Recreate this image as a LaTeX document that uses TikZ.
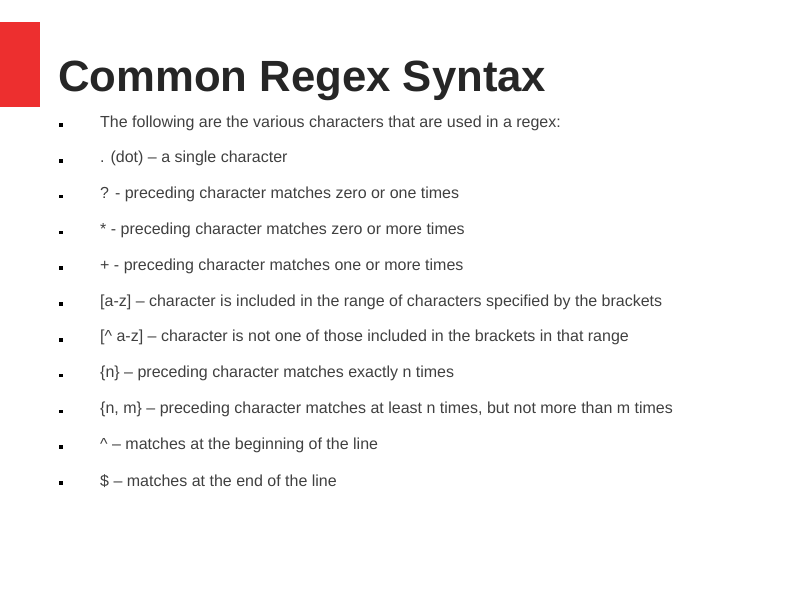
\documentclass[tikz,border=0pt]{standalone}
\usepackage{fontspec}
\setmainfont{Liberation Sans}
\definecolor{slidered}{RGB}{237,47,47}
\definecolor{txt}{RGB}{64,64,64}
\begin{document}
\begin{tikzpicture}[x=1bp,y=-1bp,
  item/.style={anchor=west,inner sep=0pt,text=txt,font=\fontsize{16bp}{19bp}\selectfont},
  bul/.style={fill=black,minimum size=3.5bp,inner sep=0pt}]
\useasboundingbox (0,0) rectangle (794,595);
\fill[slidered] (0,22) rectangle (40,107);
\node[anchor=base west,inner sep=0pt,font=\fontsize{43.7bp}{48bp}\selectfont\bfseries,text=black!85] (title) at (58,92) {Common Regex Syntax};
\foreach \t [count=\i] in {
 {The following are the various characters that are used in a regex:},
 {. (dot) -- a single character},
 {? - preceding character matches zero or one times},
 {* - preceding character matches zero or more times},
 {+ - preceding character matches one or more times},
 {[a-z] -- character is included in the range of characters specified by the brackets},
 {[\textasciicircum\ a-z] -- character is not one of those included in the brackets in that range},
 {\{n\} -- preceding character matches exactly n times},
 {\{n, m\} -- preceding character matches at least n times, but not more than m times},
 {\textasciicircum\ -- matches at the beginning of the line},
 {\$ -- matches at the end of the line}} {
  \pgfmathsetmacro\yy{123+(\i-1)*35.8}
  \node[bul] (b\i) at (61,\yy+2) {};
  \node[item] (t\i) at (100,\yy) {\t};
}
\end{tikzpicture}
\end{document}
